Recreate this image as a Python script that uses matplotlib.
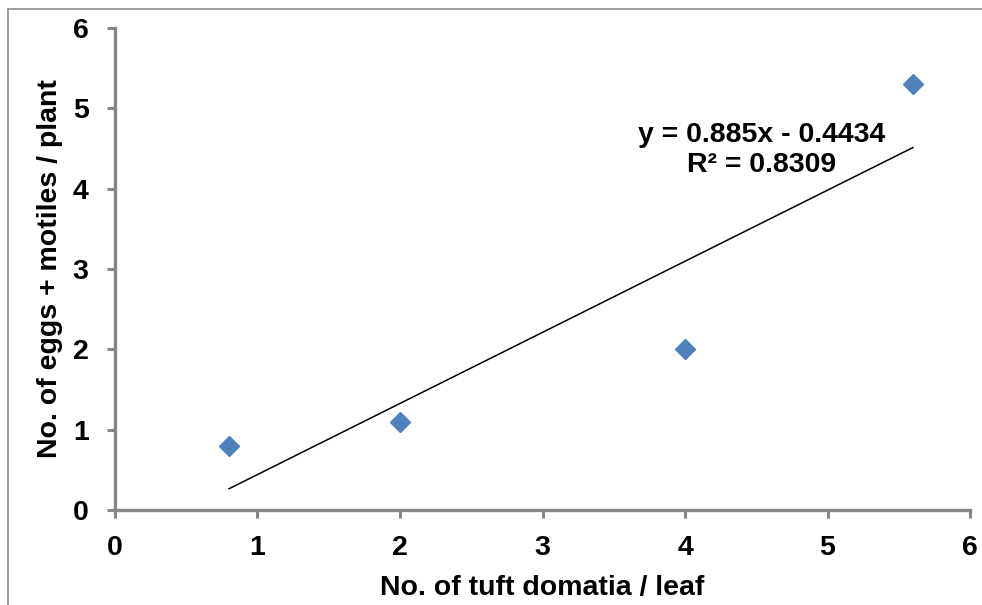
import numpy as np
import matplotlib
matplotlib.use("Agg")
import matplotlib.pyplot as plt
from matplotlib.lines import Line2D

plt.rcParams['font.family'] = ['Liberation Sans', 'DejaVu Sans']

domatia = [0.8, 2.0, 4.0, 5.6]
mites = [0.8, 1.1, 2.0, 5.3]
x_ticks = [0, 1, 2, 3, 4, 5, 6]
y_ticks = [0, 1, 2, 3, 4, 5, 6]

fs = 20.5

fig = plt.figure(figsize=(9.82, 6.05), dpi=100)
ax = fig.add_axes([0.1171, 0.157, 0.9878 - 0.1171, 0.9537 - 0.157])

ax.plot(domatia, mites, linestyle='none', marker='D', markersize=10.5,
        color='#4F81BD', markeredgecolor='#4F81BD', zorder=3)

slope, intercept = np.polyfit(domatia, mites, 1)
xs = np.array([min(domatia), max(domatia)])
ax.plot(xs, slope * xs + intercept, color='black', linewidth=1.1, zorder=2)

ax.text(4.54, 4.48, "y = 0.885x - 0.4434\nR² = 0.8309", ha='center', va='center',
        fontsize=fs, fontweight='bold', linespacing=1.2)

ax.set_xlim(0, 6)
ax.set_ylim(0, 6)
ax.set_xticks(x_ticks)
ax.set_yticks(y_ticks)
ax.tick_params(axis='both', direction='out', length=5.5, width=2.2, color='#868686',
               labelsize=fs)
ax.tick_params(axis='x', pad=12.5)
ax.tick_params(axis='y', pad=13.5)
for lab in ax.get_xticklabels() + ax.get_yticklabels():
    lab.set_fontweight('bold')

for s in ['top', 'right']:
    ax.spines[s].set_visible(False)
for s in ['left', 'bottom']:
    ax.spines[s].set_color('#868686')
    ax.spines[s].set_linewidth(2.4)

ax.set_xlabel("No. of tuft domatia / leaf", fontsize=fs, fontweight='bold', labelpad=10)
ax.set_ylabel("No. of eggs + motiles / plant", fontsize=fs, fontweight='bold', labelpad=7)

# outer chart border (left and top visible)
fig.add_artist(Line2D([7.5 / 982, 7.5 / 982], [0, 1 - 9 / 605], transform=fig.transFigure,
                      color='#8c8c8c', linewidth=1.2))
fig.add_artist(Line2D([7.5 / 982, 1], [1 - 9 / 605, 1 - 9 / 605], transform=fig.transFigure,
                      color='#8c8c8c', linewidth=1.2))

fig.savefig("out.png", dpi=100)
